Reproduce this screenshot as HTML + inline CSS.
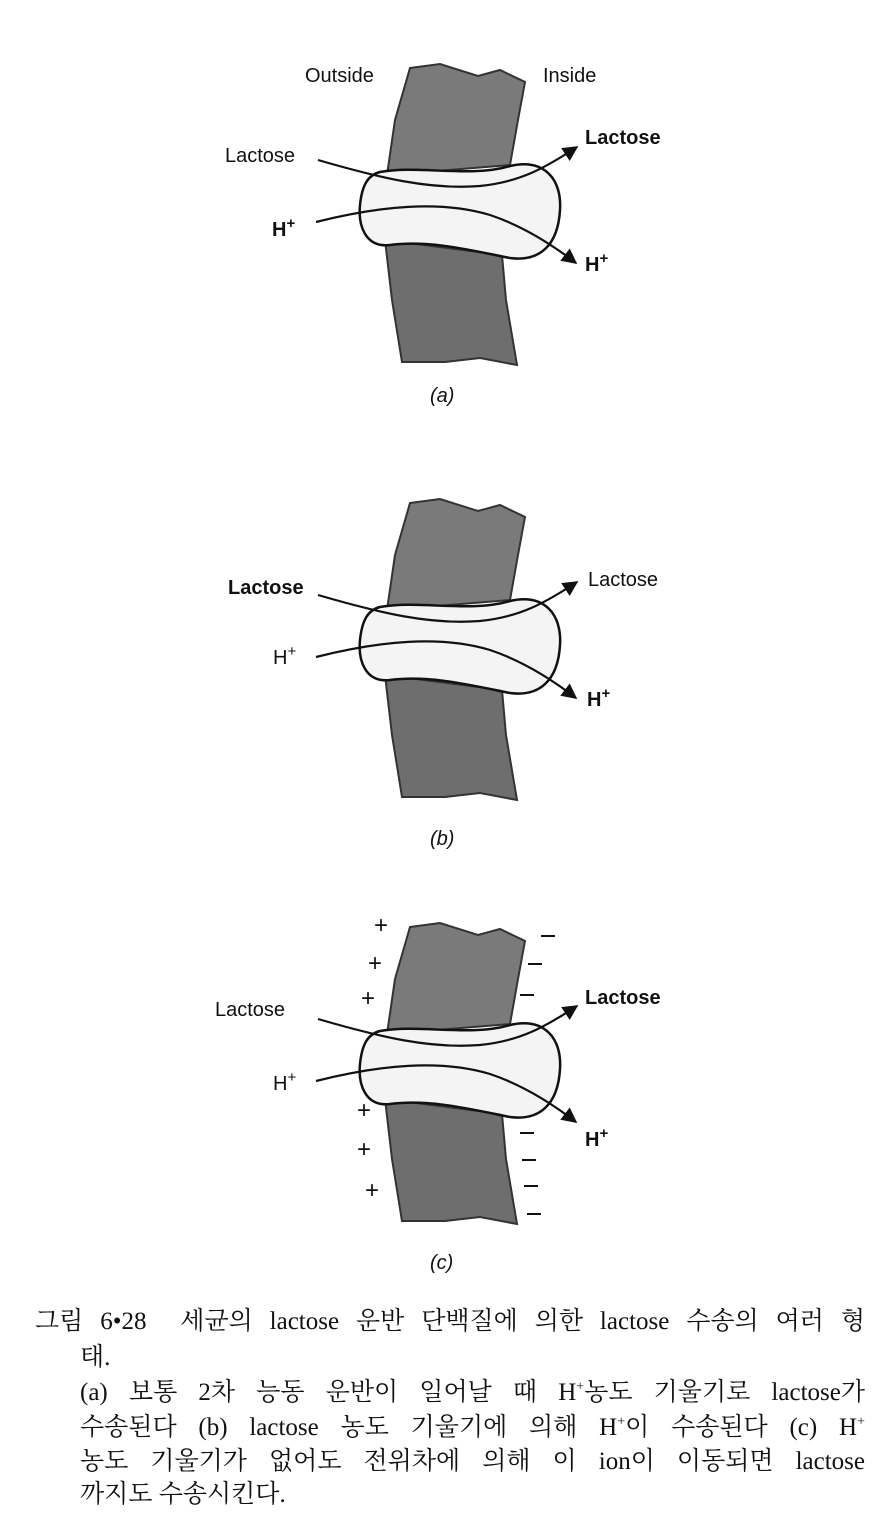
<!DOCTYPE html>
<html><head><meta charset="utf-8"><style>
html,body{margin:0;padding:0;background:#fff;}
body{width:896px;height:1514px;position:relative;overflow:hidden;}
svg{position:absolute;left:0;top:0;}
.cap{position:absolute;font-family:"Liberation Serif","Noto Serif CJK SC","Noto Sans CJK KR",serif;font-size:25px;line-height:28px;height:28px;color:#111;white-space:nowrap;}
.j{text-align:justify;text-align-last:justify;white-space:normal;}
sup{font-size:14px;line-height:0;}
</style></head><body>
<svg width="896" height="1290" viewBox="0 0 896 1290" font-family="Liberation Sans, Arial, sans-serif" fill="#111">
<defs>
<marker id="ah" viewBox="0 0 10 10" refX="9" refY="5" markerWidth="7" markerHeight="7" orient="auto"><path d="M0,0 L10,5 L0,10 z" fill="#111"/></marker>
<g id="unit">
  <path d="M410,68 L440,64 L478,76 L500,70 L525,82 L518,120 L510,165 L387,175 L395,120 Z" fill="#7a7a7a" stroke="#333" stroke-width="2"/>
  <path d="M385,240 L502,255 L506,300 L517,365 L480,358 L445,362 L402,362 L392,300 Z" fill="#6e6e6e" stroke="#333" stroke-width="2"/>
  <path d="M380,172 C420,165 470,178 510,166 C545,158 562,180 560,210 C558,245 540,262 510,258 C470,250 430,240 390,245 C365,248 358,225 360,205 C362,185 368,175 380,172 Z" fill="#f4f4f4" stroke="#111" stroke-width="2.5"/>
  <path d="M318,160 C380,178 430,190 480,186 C520,182 545,168 577,147" fill="none" stroke="#111" stroke-width="2.2" marker-end="url(#ah)"/>
  <path d="M316,222 C380,206 440,200 490,215 C520,225 550,243 576,263" fill="none" stroke="#111" stroke-width="2.2" marker-end="url(#ah)"/>
</g>
</defs>
<use href="#unit"/>
<use href="#unit" y="435"/>
<use href="#unit" y="859"/>

<g font-size="20">
<text x="305" y="82">Outside</text>
<text x="543" y="82">Inside</text>
<text x="225" y="162">Lactose</text>
<text x="585" y="144" font-weight="bold">Lactose</text>
<text x="272" y="236" font-weight="bold">H<tspan dy="-8" font-size="15">+</tspan></text>
<text x="585" y="271" font-weight="bold">H<tspan dy="-8" font-size="15">+</tspan></text>
<text x="430" y="402" font-style="italic">(a)</text>
<text x="228" y="594" font-weight="bold">Lactose</text>
<text x="588" y="586">Lactose</text>
<text x="273" y="664">H<tspan dy="-8" font-size="15">+</tspan></text>
<text x="587" y="706" font-weight="bold">H<tspan dy="-8" font-size="15">+</tspan></text>
<text x="430" y="845" font-style="italic">(b)</text>
<text x="215" y="1016">Lactose</text>
<text x="585" y="1004" font-weight="bold">Lactose</text>
<text x="273" y="1090">H<tspan dy="-8" font-size="15">+</tspan></text>
<text x="585" y="1146" font-weight="bold">H<tspan dy="-8" font-size="15">+</tspan></text>
<text x="430" y="1269" font-style="italic">(c)</text>
</g>
<g font-size="24">
<text x="374" y="933">+</text><text x="368" y="971">+</text><text x="361" y="1006">+</text>
<text x="357" y="1118">+</text><text x="357" y="1157">+</text><text x="365" y="1198">+</text>
</g>
<g stroke="#111" stroke-width="2">
<path d="M541,936h14M528,964h14M520,995h14M520,1133h14M522,1160h14M524,1186h14M527,1214h14"/>
</g>
</svg>

<div class="cap" style="left:35px;top:1308px;width:830px;"><div class="j">그림 6•28 &nbsp;세균의 lactose 운반 단백질에 의한 lactose 수송의 여러 형</div></div>
<div class="cap" style="left:80px;top:1344px;">태.</div>
<div class="cap" style="left:80px;top:1379px;width:785px;"><div class="j">(a) 보통 2차 능동 운반이 일어날 때 H<sup>+</sup>농도 기울기로 lactose가</div></div>
<div class="cap" style="left:80px;top:1414px;width:785px;"><div class="j">수송된다 (b) lactose 농도 기울기에 의해 H<sup>+</sup>이 수송된다 (c) H<sup>+</sup></div></div>
<div class="cap" style="left:80px;top:1448px;width:785px;"><div class="j">농도 기울기가 없어도 전위차에 의해 이 ion이 이동되면 lactose</div></div>
<div class="cap" style="left:80px;top:1481px;">까지도 수송시킨다.</div>
</body></html>
